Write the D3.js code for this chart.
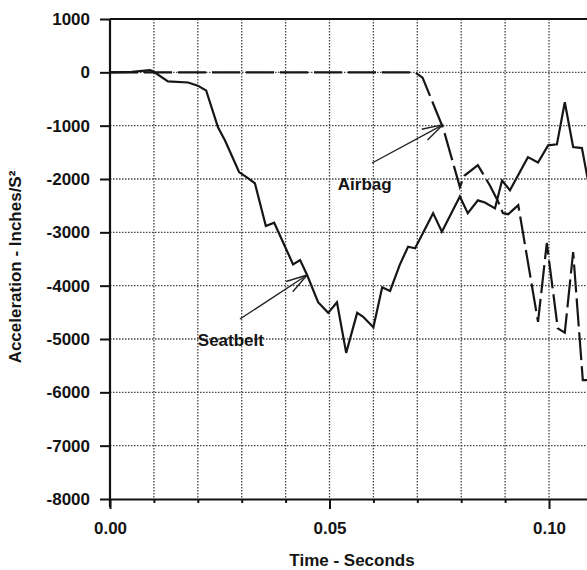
<!DOCTYPE html>
<html>
<head>
<meta charset="utf-8">
<script src="https://cdn.jsdelivr.net/npm/d3@7"></script>
<style>
  body { margin: 0; background: #fff; }
  svg text { font-family: "Liberation Sans", Arial, sans-serif; font-weight: bold; fill: #141414; }
</style>
</head>
<body>
<svg id="chart" width="587" height="570"></svg>
<script>
// seatbelt trace (solid)
var seatbeltTime = [0, 0.005, 0.0091, 0.0098, 0.0132, 0.0178, 0.020, 0.0219, 0.0246, 0.0262,
  0.0294, 0.0315, 0.033, 0.0355, 0.0374, 0.0417, 0.0433, 0.0449, 0.0474, 0.0497,
  0.0517, 0.0538, 0.0563, 0.0576, 0.060, 0.062, 0.0638, 0.066, 0.0679, 0.0695,
  0.0736, 0.0756, 0.0797, 0.0815, 0.0838, 0.0854, 0.0877, 0.0893, 0.0911, 0.0952,
  0.0975, 0.0998, 0.1018, 0.1036, 0.1055, 0.1075, 0.1095];
var seatbeltAccel = [0, 10, 40, 20, -170, -190, -250, -340, -1030, -1280,
  -1870, -1990, -2080, -2880, -2820, -3600, -3520, -3800, -4310, -4510,
  -4310, -5260, -4510, -4580, -4780, -4030, -4100, -3610, -3270, -3300,
  -2640, -2990, -2330, -2640, -2400, -2440, -2550, -2030, -2210, -1590,
  -1690, -1370, -1350, -560, -1400, -1420, -2300];

// airbag trace (dashed)
var airbagTime = [0, 0.0695, 0.0712, 0.0759, 0.0797, 0.0807, 0.0838, 0.0866, 0.0884, 0.0895,
  0.0907, 0.0918, 0.0930, 0.0975, 0.0995, 0.1020, 0.1036, 0.1055, 0.1077, 0.1100];
var airbagAccel = [0, 0, -100, -1050, -2150, -1940, -1740, -2130, -2420, -2640,
  -2660, -2580, -2490, -4680, -3200, -4800, -4880, -3370, -5770, -5770];

var yTicks = [1000, 0, -1000, -2000, -3000, -4000, -5000, -6000, -7000, -8000];
var xTicks = [0, 0.01, 0.02, 0.03, 0.04, 0.05, 0.06, 0.07, 0.08, 0.09, 0.10, 0.11];
var xLabels = ["0.00", "", "", "", "", "0.05", "", "", "", "", "0.10", ""];

var annotations = [
  {label: "Airbag", tx: 0.0519, ty: -2210, from: [0.0597, -1700], to: [0.0759, -980]},
  {label: "Seatbelt", tx: 0.0200, ty: -5130, from: [0.0296, -4625], to: [0.0449, -3800]}
];

var svg = d3.select("#chart");
var plotLeft = 110, plotTop = 19, plotBottom = 499;

var x = d3.scaleLinear().domain([0, 0.12]).range([plotLeft, plotLeft + 0.12 * 4390]);
var y = d3.scaleLinear().domain([-8000, 1000]).range([plotBottom, plotTop]);

// dotted grid
svg.append("g").selectAll("line")
  .data(yTicks.filter(d => d > -8000 && d < 1000))
  .enter().append("line")
  .attr("x1", plotLeft).attr("x2", 587)
  .attr("y1", d => y(d)).attr("y2", d => y(d))
  .attr("stroke", "#444").attr("stroke-width", 1.3)
  .attr("stroke-dasharray", "1.5,1.5");

svg.append("g").selectAll("line")
  .data(xTicks.filter(d => d > 0))
  .enter().append("line")
  .attr("x1", d => x(d)).attr("x2", d => x(d))
  .attr("y1", plotTop).attr("y2", plotBottom)
  .attr("stroke", "#444").attr("stroke-width", 1.3)
  .attr("stroke-dasharray", "1.5,1.5");

// top frame
svg.append("line")
  .attr("x1", plotLeft).attr("x2", 587)
  .attr("y1", plotTop).attr("y2", plotTop)
  .attr("stroke", "#111").attr("stroke-width", 2);

// y axis
var yAxis = svg.append("g")
  .attr("transform", `translate(${plotLeft},0)`)
  .call(d3.axisLeft(y).tickValues(yTicks).tickFormat(d => String(d))
    .tickSize(10).tickPadding(10).tickSizeOuter(0));
yAxis.select(".domain").attr("stroke", "#111").attr("stroke-width", 2.2)
  .attr("d", `M0,${plotTop}V${plotBottom + 8}`);
yAxis.selectAll(".tick line").attr("stroke", "#111").attr("stroke-width", 2);
yAxis.selectAll(".tick text").attr("font-size", 17).attr("fill", "#141414");

// x axis
var xAxis = svg.append("g")
  .attr("transform", `translate(0,${plotBottom})`)
  .call(d3.axisBottom(x).tickValues(xTicks).tickFormat((d, i) => xLabels[i]).tickSizeOuter(0));
xAxis.select(".domain").attr("stroke", "#111").attr("stroke-width", 2.2);
xAxis.selectAll(".tick line").attr("stroke", "#111").attr("stroke-width", 2)
  .attr("y2", (d, i) => xLabels[i] ? 10 : 4);
xAxis.selectAll(".tick text").attr("font-size", 17).attr("y", 35).attr("dy", 0).attr("fill", "#141414");

// axis titles
svg.append("text")
  .attr("x", 352).attr("y", 566)
  .attr("text-anchor", "middle")
  .attr("font-size", 17)
  .text("Time - Seconds");

svg.append("text")
  .attr("transform", "translate(21,267) rotate(-90)")
  .attr("text-anchor", "middle")
  .attr("font-size", 17)
  .text("Acceleration - Inches/S²");

// traces
var line = d3.line().x(d => x(d[0])).y(d => y(d[1]));

svg.append("path")
  .datum(airbagTime.map((t, i) => [t, airbagAccel[i]]))
  .attr("d", line)
  .attr("fill", "none").attr("stroke", "#161616").attr("stroke-width", 2.2)
  .attr("stroke-dasharray", "28,6");

svg.append("path")
  .datum(seatbeltTime.map((t, i) => [t, seatbeltAccel[i]]))
  .attr("d", line)
  .attr("fill", "none").attr("stroke", "#161616").attr("stroke-width", 2.2)
  .attr("stroke-linejoin", "miter");

// annotations with arrows
annotations.forEach(function(a) {
  var x1 = x(a.from[0]), y1 = y(a.from[1]);
  var x2 = x(a.to[0]), y2 = y(a.to[1]);
  var ang = Math.atan2(y1 - y2, x1 - x2);
  svg.append("line")
    .attr("x1", x1).attr("y1", y1).attr("x2", x2).attr("y2", y2)
    .attr("stroke", "#222").attr("stroke-width", 1.4);
  [-0.28, 0.28].forEach(function(da) {
    svg.append("line")
      .attr("x1", x2).attr("y1", y2)
      .attr("x2", x2 + 22 * Math.cos(ang + da))
      .attr("y2", y2 + 22 * Math.sin(ang + da))
      .attr("stroke", "#222").attr("stroke-width", 1.4);
  });
  svg.append("text")
    .attr("x", x(a.tx)).attr("y", y(a.ty))
    .attr("font-size", 17)
    .text(a.label);
});
</script>
</body>
</html>
